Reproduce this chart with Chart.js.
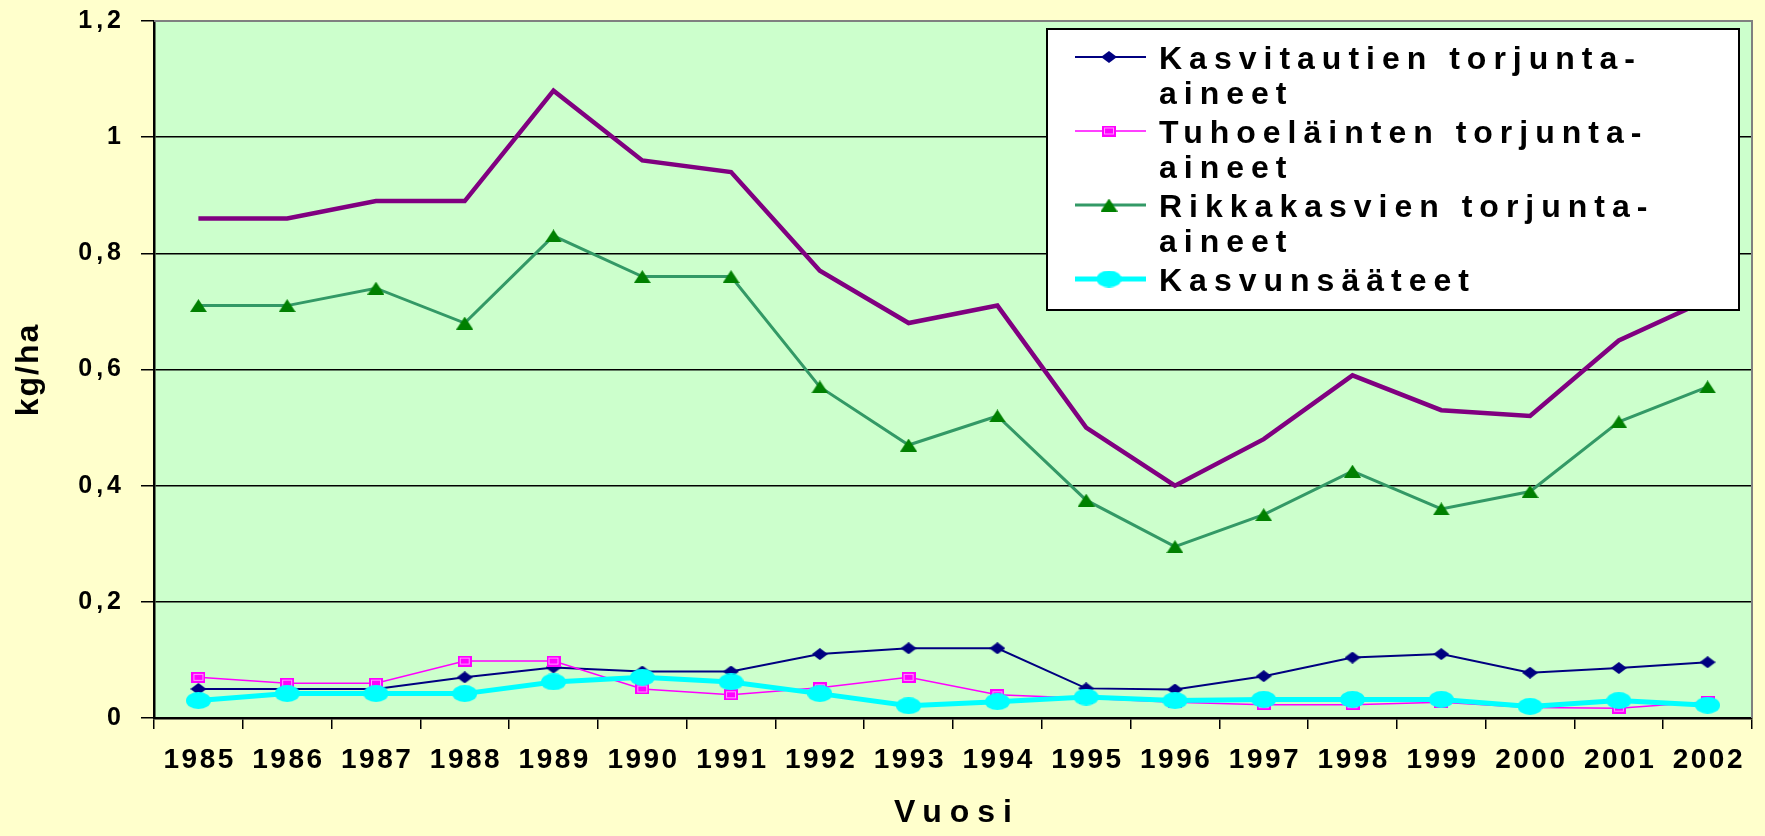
<!DOCTYPE html>
<html lang="fi">
<head>
  <meta charset="UTF-8">
  <title>Torjunta-aineiden käyttö</title>
  <script src="https://cdn.jsdelivr.net/npm/chart.js"></script>
  <style>
    html, body { margin: 0; padding: 0; background: #ffffcc; }
    canvas { display: block; }
  </style>
</head>
<body>
  <canvas id="chart" width="1765" height="836"></canvas>

  <script>
    const years = ['1985', '1986', '1987', '1988', '1989', '1990', '1991', '1992', '1993',
                   '1994', '1995', '1996', '1997', '1998', '1999', '2000', '2001', '2002'];

    const kasvitautien = [0.05, 0.05, 0.05, 0.07, 0.087, 0.08, 0.08, 0.11, 0.12,
                          0.12, 0.051, 0.049, 0.072, 0.104, 0.11, 0.078, 0.086, 0.096];
    const tuhoelainten = [0.07, 0.06, 0.06, 0.098, 0.098, 0.05, 0.04, 0.052, 0.07,
                          0.04, 0.034, 0.027, 0.023, 0.023, 0.027, 0.018, 0.017, 0.028];
    const rikkakasvien = [0.71, 0.71, 0.74, 0.68, 0.83, 0.76, 0.76, 0.57, 0.47,
                          0.52, 0.375, 0.295, 0.35, 0.425, 0.36, 0.39, 0.51, 0.57];
    const kasvunsaateet = [0.03, 0.042, 0.042, 0.042, 0.062, 0.07, 0.062, 0.042, 0.021,
                           0.028, 0.036, 0.03, 0.032, 0.032, 0.032, 0.02, 0.03, 0.022];
    const yhteensa = [0.86, 0.86, 0.89, 0.89, 1.08, 0.96, 0.94, 0.77, 0.68,
                      0.71, 0.50, 0.40, 0.48, 0.59, 0.53, 0.52, 0.65, 0.72];

    const FONT = '"Liberation Sans", Arial, sans-serif';

    // pienet merkit omina canvaseina (alkuperäisessä ne ovat hieman leveämpiä kuin korkeita)
    function marker(w, h, paint) {
      const c = document.createElement('canvas');
      c.width = w; c.height = h;
      paint(c.getContext('2d'), w, h);
      return c;
    }
    const diamond = marker(16, 12, (g, w, h) => {
      g.fillStyle = '#000080';
      g.beginPath(); g.moveTo(w / 2, 0); g.lineTo(w, h / 2); g.lineTo(w / 2, h); g.lineTo(0, h / 2);
      g.closePath(); g.fill();
    });
    const square = marker(14, 11, (g, w, h) => {
      g.fillStyle = '#ff00ff'; g.fillRect(0, 0, w, h);
      g.strokeStyle = '#ff99ff'; g.lineWidth = 1; g.strokeRect(2.5, 2.5, w - 5, h - 5);
    });
    const triangle = marker(17, 13, (g, w, h) => {
      g.fillStyle = '#008000';
      g.beginPath(); g.moveTo(w / 2, 0); g.lineTo(w, h); g.lineTo(0, h); g.closePath(); g.fill();
    });
    const ellipse = marker(25, 17, (g, w, h) => {
      g.fillStyle = '#00ffff';
      g.beginPath(); g.ellipse(w / 2, h / 2, w / 2, h / 2, 0, 0, Math.PI * 2); g.fill();
    });

    // kirjainväli akselien teksteille
    const tickSpacing = { x: 2.5, y: 4 };
    const titleSpacing = { x: 8, y: 2 };

    function spaced(fn, spacing, dx) {
      return function (...args) {
        this.ctx.save();
        this.ctx.letterSpacing = spacing + 'px';
        this.ctx.translate(dx, 0);
        fn.apply(this, args);
        this.ctx.restore();
      };
    }

    const spacingPlugin = {
      id: 'spacing',
      afterLayout(chart) {
        for (const s of Object.values(chart.scales)) {
          if (s._spaced) continue;
          s._spaced = true;
          const horiz = s.isHorizontal();
          s.drawLabels = spaced(s.drawLabels, tickSpacing[s.id], horiz ? tickSpacing[s.id] / 2 : 0);
          s.drawTitle = spaced(s.drawTitle, titleSpacing[s.id], horiz ? titleSpacing[s.id] / 2 : 0);
        }
      }
    };

    const plotBg = {
      id: 'plotBg',
      beforeDraw(chart) {
        const { ctx, chartArea: a } = chart;
        ctx.save();
        ctx.fillStyle = '#ccffcc';
        ctx.fillRect(a.left, a.top, a.right - a.left, a.bottom - a.top);
        ctx.restore();
      },
      beforeDatasetsDraw(chart) {
        const { ctx, chartArea: a } = chart;
        ctx.save();
        ctx.strokeStyle = '#808080';
        ctx.lineWidth = 2;
        ctx.beginPath();
        ctx.moveTo(a.left, a.top);
        ctx.lineTo(a.right, a.top);
        ctx.lineTo(a.right, a.bottom);
        ctx.stroke();
        ctx.restore();
      }
    };

    // selite laatikkona oikeassa yläkulmassa, rivitys tavuviivan kohdalta
    const boxLegend = {
      id: 'boxLegend',
      afterDraw(chart) {
        const { ctx, chartArea: a } = chart;
        const left = a.left + 893, top = a.top + 8;
        const right = a.right - 13, bottom = a.top + 289;
        ctx.save();
        ctx.fillStyle = '#ffffff';
        ctx.fillRect(left, top, right - left, bottom - top);
        ctx.strokeStyle = '#000000';
        ctx.lineWidth = 2;
        ctx.strokeRect(left, top, right - left, bottom - top);

        ctx.font = 'bold 32px ' + FONT;
        ctx.letterSpacing = '7px';
        ctx.textBaseline = 'alphabetic';
        ctx.textAlign = 'left';

        chart.data.datasets.filter(d => d.inLegend).forEach((d, i) => {
          const y = top + 28 + i * 74;
          ctx.strokeStyle = d.borderColor;
          ctx.lineWidth = d.borderWidth;
          ctx.beginPath();
          ctx.moveTo(left + 28, y);
          ctx.lineTo(left + 99, y);
          ctx.stroke();
          const m = d.pointStyle;
          ctx.drawImage(m, left + 62 - m.width / 2, y - m.height / 2);

          ctx.fillStyle = '#000000';
          const lines = d.label.replace('-', '-\n').split('\n');
          lines.forEach((t, j) => ctx.fillText(t, left + 112, y + 11.5 + j * 35));
        });
        ctx.restore();
      }
    };

    new Chart(document.getElementById('chart'), {
      type: 'line',
      data: {
        labels: years,
        datasets: [
          { label: 'Kasvitautien torjunta-aineet', data: kasvitautien, inLegend: true, order: 2,
            borderColor: '#000080', borderWidth: 2, pointStyle: diamond, pointRadius: 6 },
          { label: 'Tuhoeläinten torjunta-aineet', data: tuhoelainten, inLegend: true, order: 1,
            borderColor: '#ff00ff', borderWidth: 1.5, pointStyle: square, pointRadius: 6 },
          { label: 'Rikkakasvien torjunta-aineet', data: rikkakasvien, inLegend: true, order: 3,
            borderColor: '#339966', borderWidth: 3, pointStyle: triangle, pointRadius: 6 },
          { label: 'Kasvunsääteet', data: kasvunsaateet, inLegend: true, order: 0,
            borderColor: '#00ffff', borderWidth: 5, pointStyle: ellipse, pointRadius: 8 },
          { label: 'Yhteensä', data: yhteensa, inLegend: false, order: 4,
            borderColor: '#800080', borderWidth: 4.5, pointRadius: 0 }
        ]
      },
      options: {
        responsive: false,
        animation: false,
        events: [],
        layout: { padding: { top: 21, right: 4, left: 0, bottom: 0 } },
        plugins: {
          legend: { display: false },
          tooltip: { enabled: false }
        },
        scales: {
          x: {
            offset: true,
            afterFit: s => { s.height = 118; s.paddingLeft = 0; s.paddingRight = 0; },
            grid: { offset: true, drawOnChartArea: false, color: '#000000', lineWidth: 1.5, tickLength: 11 },
            border: { color: '#000000', width: 2.5 },
            ticks: {
              autoSkip: false, maxRotation: 0, padding: 14,
              color: '#000000', font: { family: FONT, size: 28, weight: 'bold' }
            },
            title: {
              display: true, text: 'Vuosi', color: '#000000',
              font: { family: FONT, size: 32, weight: 'bold' },
              padding: { top: 0, bottom: 4 }
            }
          },
          y: {
            min: 0, max: 1.2,
            afterFit: s => { s.width = 154; s.paddingTop = 0; s.paddingBottom = 0; },
            grid: { color: '#000000', lineWidth: 1.5, tickLength: 13 },
            border: { color: '#000000', width: 2.5 },
            ticks: {
              stepSize: 0.2, padding: 16, color: '#000000',
              font: { family: FONT, size: 25, weight: 'bold' },
              callback: v => String(Number(v.toFixed(1))).replace('.', ',')
            },
            title: {
              display: true, text: 'kg/ha', color: '#000000',
              font: { family: FONT, size: 32, weight: 'bold' },
              padding: { top: 10, bottom: 0 }
            }
          }
        }
      },
      plugins: [spacingPlugin, plotBg, boxLegend]
    });
  </script>
</body>
</html>
